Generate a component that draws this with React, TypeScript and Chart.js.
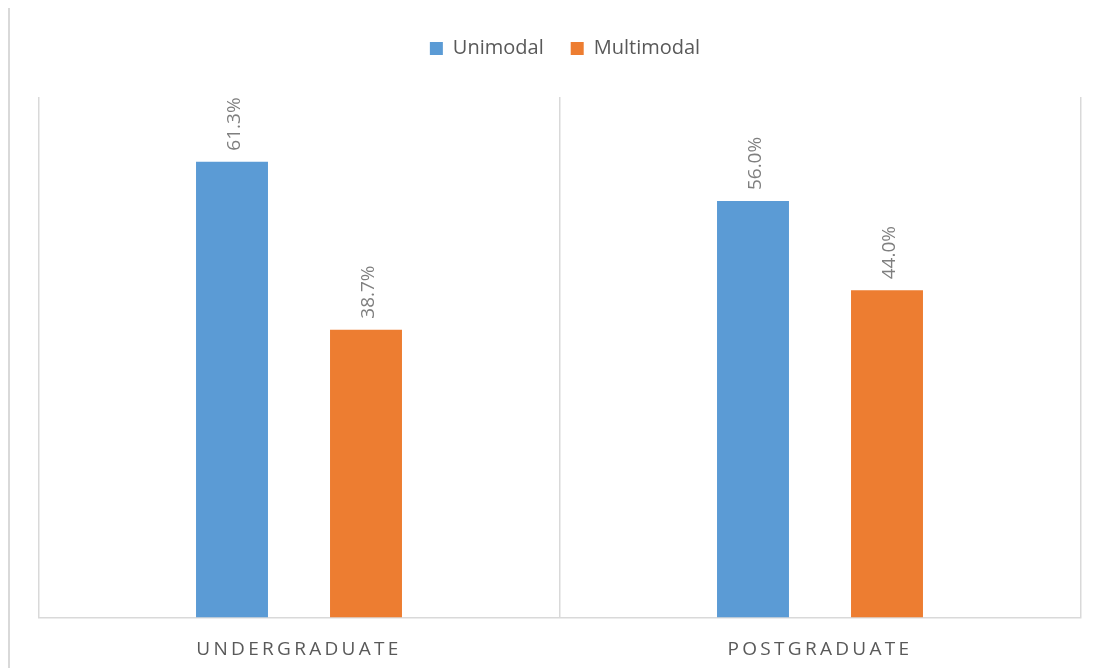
import React, { useEffect, useRef } from 'react';
import { Chart, registerables } from 'chart.js';

Chart.register(...registerables);

// Share of respondents by study level
const categories = ['UNDERGRADUATE', 'POSTGRADUATE'];
const seriesNames = ['Unimodal', 'Multimodal'];
const unimodal = [61.3, 56.0];
const multimodal = [38.7, 44.0];
const yMin = 0;
const yMax = 70;

const FONT = '"Open Sans", "DejaVu Sans", sans-serif';
const BLUE = '#5B9BD5';
const ORANGE = '#ED7D31';
const LINE = '#d9d9d9';

// Adds room between the legend row and the plot area.
const legendSpacer = {
  id: 'legendSpacer',
  beforeInit(chart: any) {
    const legend = chart.legend;
    if (!legend) return;
    const fit = legend.fit;
    legend.fit = function () {
      fit.call(this);
      this.height += 28.5;
    };
  },
};

// Category labels are drawn letter-spaced.
const spacedAxisLabels = {
  id: 'spacedAxisLabels',
  beforeDraw(chart: any) {
    const scale = chart.scales.x;
    if (!scale || scale.__spaced) return;
    const draw = scale.drawLabels;
    scale.drawLabels = function (area: any) {
      const ctx = this.ctx;
      ctx.save();
      ctx.letterSpacing = '3.3px';
      draw.call(this, area);
      ctx.restore();
    };
    scale.__spaced = true;
  },
};

// Rotated percentage labels above each bar.
const valueLabels = {
  id: 'valueLabels',
  afterDatasetsDraw(chart: any) {
    const ctx = chart.ctx;
    ctx.save();
    ctx.font = `19px ${FONT}`;
    ctx.fillStyle = '#7f7f7f';
    ctx.textAlign = 'left';
    ctx.textBaseline = 'middle';
    chart.data.datasets.forEach((ds: any, di: number) => {
      const meta = chart.getDatasetMeta(di);
      meta.data.forEach((bar: any, i: number) => {
        const v = ds.data[i] as number;
        ctx.save();
        ctx.translate(bar.x + 3, bar.y - 11);
        ctx.rotate(-Math.PI / 2);
        ctx.fillText(v.toFixed(1) + '%', 0, 0);
        ctx.restore();
      });
    });
    ctx.restore();
  },
};

export default function App() {
  const canvasRef = useRef<HTMLCanvasElement | null>(null);

  useEffect(() => {
    if (!canvasRef.current) return;
    const chart = new Chart(canvasRef.current, {
      type: 'bar',
      data: {
        labels: categories,
        datasets: [
          {
            label: seriesNames[0],
            data: unimodal,
            backgroundColor: BLUE,
            borderWidth: 0,
            categoryPercentage: 0.5144,
            barPercentage: 0.537,
          },
          {
            label: seriesNames[1],
            data: multimodal,
            backgroundColor: ORANGE,
            borderWidth: 0,
            categoryPercentage: 0.5144,
            barPercentage: 0.537,
          },
        ],
      },
      options: {
        animation: false,
        responsive: true,
        maintainAspectRatio: false,
        events: [],
        layout: { padding: { left: 28.5, right: 6.5, top: 3.5, bottom: 0 } },
        plugins: {
          tooltip: { enabled: false },
          legend: {
            position: 'top',
            align: 'center',
            labels: {
              color: '#595959',
              font: { family: FONT, size: 20 },
              boxWidth: 13,
              boxHeight: 13,
              padding: 27,
            },
          },
        },
        scales: {
          x: {
            grid: { offset: true, color: LINE, lineWidth: 1.5, drawTicks: false },
            border: { display: true, color: LINE, width: 1.5 },
            ticks: {
              color: '#595959',
              font: { family: FONT, size: 19 },
              padding: 21,
              maxRotation: 0,
              autoSkip: false,
            },
            afterFit: (s: any) => {
              s.height = 50.5;
            },
          },
          y: {
            position: 'right',
            min: yMin,
            max: yMax,
            grid: { display: false },
            border: { display: false },
            ticks: { display: false },
            afterFit: (s: any) => {
              s.width = 11;
            },
          },
        },
      },
      plugins: [legendSpacer, spacedAxisLabels, valueLabels],
    });
    return () => chart.destroy();
  }, []);

  return (
    <div
      style={{
        position: 'fixed',
        left: 8,
        top: 8,
        width: 1090,
        height: 660,
        boxSizing: 'border-box',
        borderLeft: `2px solid ${LINE}`,
        background: '#fff',
      }}
    >
      <div style={{ position: 'relative', width: '100%', height: '100%' }}>
        <canvas ref={canvasRef} />
      </div>
    </div>
  );
}
